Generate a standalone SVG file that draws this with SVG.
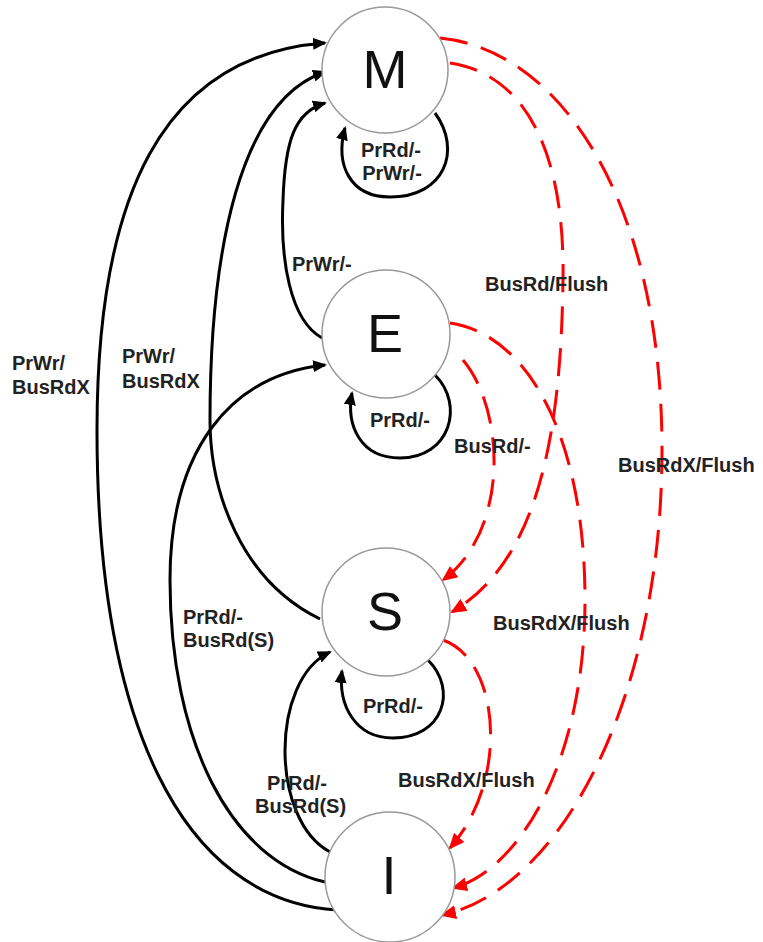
<svg xmlns="http://www.w3.org/2000/svg" width="763" height="942" viewBox="0 0 763 942">
<style>
.node{fill:#fff;stroke:#999;stroke-width:1.5}
.st{font-family:"Liberation Sans",Arial,sans-serif;font-size:54px;fill:#111;text-anchor:middle}
.lb{font-family:"Liberation Sans",Arial,sans-serif;font-size:20px;font-weight:bold;fill:#222}
.c{text-anchor:middle}
.blk{fill:none;stroke:#000;stroke-width:3;marker-end:url(#ab)}
.red{fill:none;stroke:#f00;stroke-width:3;stroke-dasharray:28 14;marker-end:url(#ar)}
</style>
<defs>
<marker id="ab" viewBox="0 0 14 12" refX="12" refY="6" markerWidth="14" markerHeight="12" markerUnits="userSpaceOnUse" orient="auto"><path d="M0,0 L14,6 L0,12 z" fill="#000"/></marker>
<marker id="ar" viewBox="0 0 16 14" refX="14" refY="7" markerWidth="16" markerHeight="14" markerUnits="userSpaceOnUse" orient="auto"><path d="M0,0 L16,7 L0,14 z" fill="#f00"/></marker>
</defs>
<g id="connectors">
<path class="blk" d="M337,910 C180,900 97,720 97,430 C97,200 160,55 325,43"/>
<path class="blk" d="M320,619 C240,580 210,490 210,420 C210,250 240,100 325,72"/>
<path class="blk" d="M322,338 C290,320 280,260 283,200 C285,140 295,112 325,103"/>
<path class="blk" d="M325,882 C230,860 170,740 170,580 C170,450 230,375 325,365"/>
<path class="blk" d="M330,852 C270,820 270,680 330,652"/>
<path class="blk" d="M435,113 C462,150 445,197 390,197 C350,197 335,165 345,128"/>
<path class="blk" d="M435,375 C465,405 450,458 400,458 C360,458 346,425 352,393"/>
<path class="blk" d="M428,660 C458,690 443,738 393,738 C355,738 338,705 342,671"/>
<path class="red" d="M450,63 C530,75 565,160 563,280 C561,430 540,560 452,612"/>
<path class="red" d="M440,38 C560,50 662,200 662,450 C662,700 560,890 442,915"/>
<path class="red" d="M463,360 C505,410 510,530 443,580"/>
<path class="red" d="M450,323 C530,335 585,440 585,600 C585,760 520,870 453,888"/>
<path class="red" d="M443,640 C500,660 510,780 450,848"/>
</g>
<g id="node-M"><circle class="node" cx="385" cy="70" r="63"/><text class="st" x="385" y="88">M</text></g>
<g id="node-E"><circle class="node" cx="386" cy="334" r="64"/><text class="st" x="385" y="352">E</text></g>
<g id="node-S"><circle class="node" cx="386" cy="612" r="64"/><text class="st" x="385" y="630">S</text></g>
<g id="node-I"><circle class="node" cx="390" cy="877" r="65"/><text class="st" x="389" y="894">I</text></g>
<g id="labels">
<text class="lb" x="12" y="370">PrWr/</text>
<text class="lb" x="12" y="394">BusRdX</text>
<text class="lb" x="122" y="363">PrWr/</text>
<text class="lb" x="122" y="388">BusRdX</text>
<text class="lb" x="292" y="271">PrWr/-</text>
<text class="lb c" x="391" y="157">PrRd/-</text>
<text class="lb c" x="392" y="180">PrWr/-</text>
<text class="lb" x="485" y="291">BusRd/Flush</text>
<text class="lb" x="370" y="427">PrRd/-</text>
<text class="lb" x="454" y="453">BusRd/-</text>
<text class="lb" x="618" y="472">BusRdX/Flush</text>
<text class="lb" x="183" y="624">PrRd/-</text>
<text class="lb" x="183" y="647">BusRd(S)</text>
<text class="lb" x="493" y="630">BusRdX/Flush</text>
<text class="lb" x="363" y="713">PrRd/-</text>
<text class="lb" x="398" y="787">BusRdX/Flush</text>
<text class="lb" x="267" y="790">PrRd/-</text>
<text class="lb" x="255" y="813">BusRd(S)</text>
</g>
</svg>
